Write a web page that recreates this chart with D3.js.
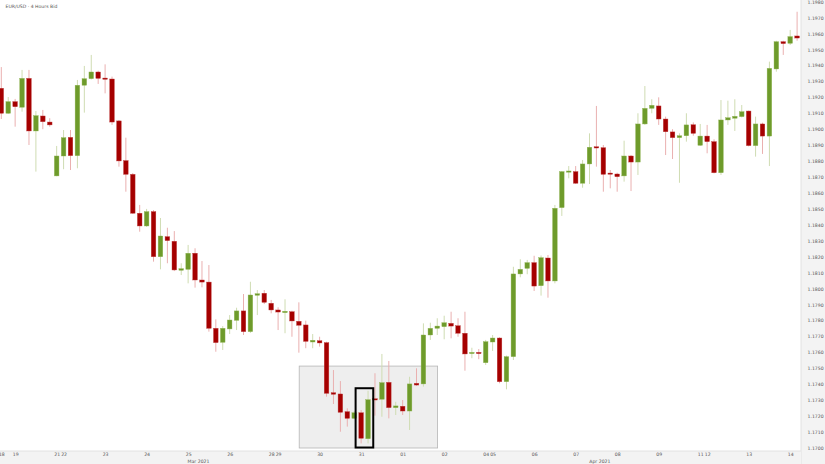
<!DOCTYPE html>
<html><head><meta charset="utf-8">
<script src="https://cdn.jsdelivr.net/npm/d3@7"></script>
<style>html,body{margin:0;padding:0;background:#fff;overflow:hidden}svg{display:block}</style>
</head><body><svg id="c" width="825" height="464"></svg>
<script>
const title = "EUR/USD · 4 Hours Bid";
const open = [1.19257,1.19100,1.19173,1.19138,1.19319,1.18989,1.19083,1.19045,1.18707,1.18832,
1.18949,1.18834,1.19276,1.19317,1.19359,1.19321,1.19315,1.19052,1.18803,1.18717,
1.18473,1.18393,1.18483,1.18200,1.18326,1.18297,1.18115,1.18121,1.18222,1.18054,
1.18041,1.17751,1.17663,1.17747,1.17801,1.17860,1.17730,1.17958,1.17971,1.17908,
1.17866,1.17849,1.17855,1.17795,1.17772,1.17665,1.17673,1.17661,1.17347,1.17339,
1.17228,1.17186,1.17221,1.17058,1.17309,1.17306,1.17412,1.17253,1.17262,1.17232,
1.17406,1.17402,1.17709,1.17751,1.17761,1.17782,1.17767,1.17720,1.17592,1.17600,
1.17535,1.17665,1.17690,1.17416,1.17573,1.18092,1.18127,1.18163,1.18018,1.18192,
1.18048,1.18508,1.18736,1.18734,1.18661,1.18782,1.18890,1.18884,1.18725,1.18719,
1.18707,1.18832,1.18794,1.19033,1.19131,1.19146,1.19064,1.18983,1.18947,1.18959,
1.19028,1.18899,1.18957,1.18922,1.18727,1.19058,1.19069,1.19079,1.19114,1.18897,
1.19033,1.18957,1.19378,1.19549,1.19539,1.19585];
const high = [1.19390,1.19202,1.19190,1.19372,1.19372,1.19114,1.19121,1.19069,1.18895,1.18995,
1.18995,1.19309,1.19397,1.19466,1.19367,1.19407,1.19330,1.19058,1.18947,1.18725,
1.18525,1.18500,1.18493,1.18443,1.18382,1.18361,1.18159,1.18274,1.18253,1.18173,
1.18148,1.17807,1.17765,1.17834,1.17880,1.17966,1.18043,1.17991,1.17991,1.17929,
1.17883,1.17933,1.17861,1.17914,1.17799,1.17715,1.17698,1.17667,1.17489,1.17420,
1.17249,1.17232,1.17238,1.17359,1.17469,1.17590,1.17546,1.17290,1.17301,1.17447,
1.17500,1.17782,1.17786,1.17814,1.17830,1.17855,1.17814,1.17855,1.17629,1.17621,
1.17678,1.17709,1.17695,1.17580,1.18137,1.18184,1.18180,1.18206,1.18208,1.18211,
1.18525,1.18738,1.18769,1.18769,1.18807,1.18974,1.19146,1.18901,1.18744,1.18727,
1.18928,1.18838,1.19100,1.19271,1.19188,1.19200,1.19079,1.19000,1.18974,1.19100,
1.19043,1.19033,1.19027,1.18937,1.19183,1.19179,1.19188,1.19152,1.19117,1.19079,
1.19041,1.19424,1.19555,1.19555,1.19623,1.19737];
const low = [1.19064,1.19096,1.19016,1.19110,1.18901,1.18734,1.19000,1.19016,1.18705,1.18749,
1.18744,1.18755,1.19104,1.19312,1.19284,1.19225,1.19027,1.18765,1.18608,1.18468,
1.18357,1.18387,1.18169,1.18121,1.18159,1.18110,1.18085,1.18033,1.18006,1.18008,
1.17730,1.17604,1.17615,1.17715,1.17740,1.17709,1.17722,1.17834,1.17903,1.17845,
1.17740,1.17720,1.17698,1.17598,1.17626,1.17626,1.17636,1.17322,1.17276,1.17102,
1.17134,1.17182,1.17029,1.17029,1.17203,1.17196,1.17186,1.17207,1.17207,1.17113,
1.17389,1.17385,1.17678,1.17709,1.17682,1.17688,1.17698,1.17485,1.17563,1.17557,
1.17521,1.17609,1.17406,1.17368,1.17552,1.18071,1.18090,1.17985,1.17956,1.17943,
1.18033,1.18456,1.18692,1.18656,1.18633,1.18656,1.18765,1.18608,1.18629,1.18608,
1.18671,1.18612,1.18713,1.19027,1.19100,1.19027,1.18838,1.18813,1.18664,1.18922,
1.18959,1.18895,1.18849,1.18723,1.18713,1.19027,1.18989,1.19074,1.18892,1.18828,
1.18845,1.18769,1.19361,1.19466,1.19528,1.19555];
const close = [1.19100,1.19173,1.19141,1.19319,1.18989,1.19085,1.19047,1.19027,1.18832,1.18947,
1.18834,1.19276,1.19317,1.19359,1.19319,1.19313,1.19045,1.18801,1.18717,1.18473,
1.18393,1.18483,1.18200,1.18330,1.18301,1.18117,1.18125,1.18222,1.18054,1.18041,
1.17751,1.17661,1.17751,1.17803,1.17860,1.17730,1.17960,1.17968,1.17914,1.17866,
1.17853,1.17858,1.17797,1.17770,1.17669,1.17676,1.17659,1.17343,1.17337,1.17224,
1.17186,1.17221,1.17061,1.17303,1.17301,1.17410,1.17253,1.17264,1.17232,1.17402,
1.17395,1.17709,1.17751,1.17765,1.17786,1.17765,1.17720,1.17590,1.17600,1.17592,
1.17667,1.17690,1.17416,1.17573,1.18092,1.18121,1.18163,1.18016,1.18194,1.18048,
1.18504,1.18734,1.18738,1.18661,1.18782,1.18887,1.18882,1.18717,1.18722,1.18702,
1.18832,1.18794,1.19033,1.19131,1.19150,1.19064,1.18984,1.18947,1.18959,1.19027,
1.18974,1.18957,1.18922,1.18727,1.19058,1.19072,1.19081,1.19110,1.18897,1.19033,
1.18957,1.19382,1.19549,1.19537,1.19581,1.19572];
const dayLabels = ["18","19","21","22","23","24","25","26","28","29","30","31","01","02","04","05","06","07","08","09","11","12","13","14"];
const dayIndex  = [0,2,8,9,15,21,27,33,39,40,46,52,58,64,70,71,77,83,89,95,101,102,108,114];
const monthLabels = ["Mar 2021","Apr 2021"];
const monthStart  = [0,58];
const monthEnd    = [57,115];
const priceTicks = d3.range(0,29).map(i => +(1.17 + i*0.001).toFixed(4));
// annotation zone (index range, price range)
const zoneIdx = [43.05, 63.05], zonePrice = [1.1700, 1.17514];
const markIdx = [51.2, 53.75], markPrice = [1.17003, 1.17375];

const W = 825, H = 464;
const svg = d3.select("#c");
const x = d3.scaleLinear().domain([0, open.length-1]).range([1.3, 797.1]);
const y = d3.scaleLinear().domain([1.17, 1.198]).range([448, 1.7]);

svg.append("rect").attr("width",W).attr("height",H).attr("fill","#fff");
// zone
svg.append("rect")
  .attr("x", x(zoneIdx[0])).attr("y", y(zonePrice[1]))
  .attr("width", x(zoneIdx[1]) - x(zoneIdx[0])).attr("height", y(zonePrice[0]) - y(zonePrice[1]))
  .attr("fill","#eeeeee").attr("stroke","#b5b5b5").attr("stroke-width",0.8);

const data = open.map((o,i)=>({i,o,h:high[i],l:low[i],c:close[i],up:close[i]>=o}));
const g = svg.append("g");
g.selectAll("line.w").data(data).join("line")
  .attr("x1",d=>x(d.i)).attr("x2",d=>x(d.i))
  .attr("y1",d=>y(d.h)).attr("y2",d=>y(d.l))
  .attr("stroke",d=>d.up?"#cfdcb2":"#eab0b0").attr("stroke-width",1);
const bw = 4.6;
g.selectAll("rect.b").data(data).join("rect")
  .attr("x",d=>x(d.i)-bw/2)
  .attr("y",d=>y(Math.max(d.o,d.c)))
  .attr("width",bw)
  .attr("height",d=>Math.max(1.2, Math.abs(y(d.o)-y(d.c))))
  .attr("fill",d=>d.up?"#6e9b2b":"#a50000")
  .attr("stroke",d=>d.up?"#8fb352":"#bf3a3a").attr("stroke-width",0.4);

// highlight rect
svg.append("rect")
  .attr("x", x(markIdx[0])).attr("y", y(markPrice[1]))
  .attr("width", x(markIdx[1]) - x(markIdx[0])).attr("height", y(markPrice[0]) - y(markPrice[1]))
  .attr("fill","none").attr("stroke","#000").attr("stroke-width",2);

// right axis panel
svg.append("rect").attr("x",801).attr("y",0).attr("width",24).attr("height",H).attr("fill","#f3f3f3");
svg.append("line").attr("x1",801).attr("x2",801).attr("y1",0).attr("y2",H).attr("stroke","#e2e2e2");
// bottom axis panel
svg.append("rect").attr("x",0).attr("y",451).attr("width",801).attr("height",13).attr("fill","#f3f3f3");
svg.append("line").attr("x1",0).attr("x2",801).attr("y1",451).attr("y2",451).attr("stroke","#e2e2e2");

const yAxis = d3.axisRight(y).tickValues(priceTicks).tickFormat(d3.format(".4f")).tickSize(0).tickPadding(0);
const ya = svg.append("g").attr("transform","translate(807.5,0)").call(yAxis);
ya.select(".domain").remove();
ya.selectAll("text").attr("font-family","DejaVu Sans, sans-serif").attr("font-size",4.6).attr("fill","#555");

const xAxis = d3.axisBottom(x).tickValues(dayIndex).tickFormat((d,i)=>dayLabels[i]).tickSize(0).tickPadding(0);
const xa = svg.append("g").attr("transform","translate(0,452.5)").call(xAxis);
xa.select(".domain").remove();
xa.selectAll("text").attr("font-family","DejaVu Sans, sans-serif").attr("font-size",4.6).attr("fill","#555");

svg.append("g").selectAll("text").data(monthLabels).join("text")
  .attr("x",(d,i)=>x((monthStart[i]+monthEnd[i])/2)).attr("y",462.5)
  .attr("text-anchor","middle").attr("font-family","DejaVu Sans, sans-serif")
  .attr("font-size",4.6).attr("fill","#555").text(d=>d);

svg.append("text").attr("x",5.5).attr("y",8).attr("font-family","DejaVu Sans, sans-serif")
  .attr("font-size",4.6).attr("fill","#555").text(title);
</script></body></html>
